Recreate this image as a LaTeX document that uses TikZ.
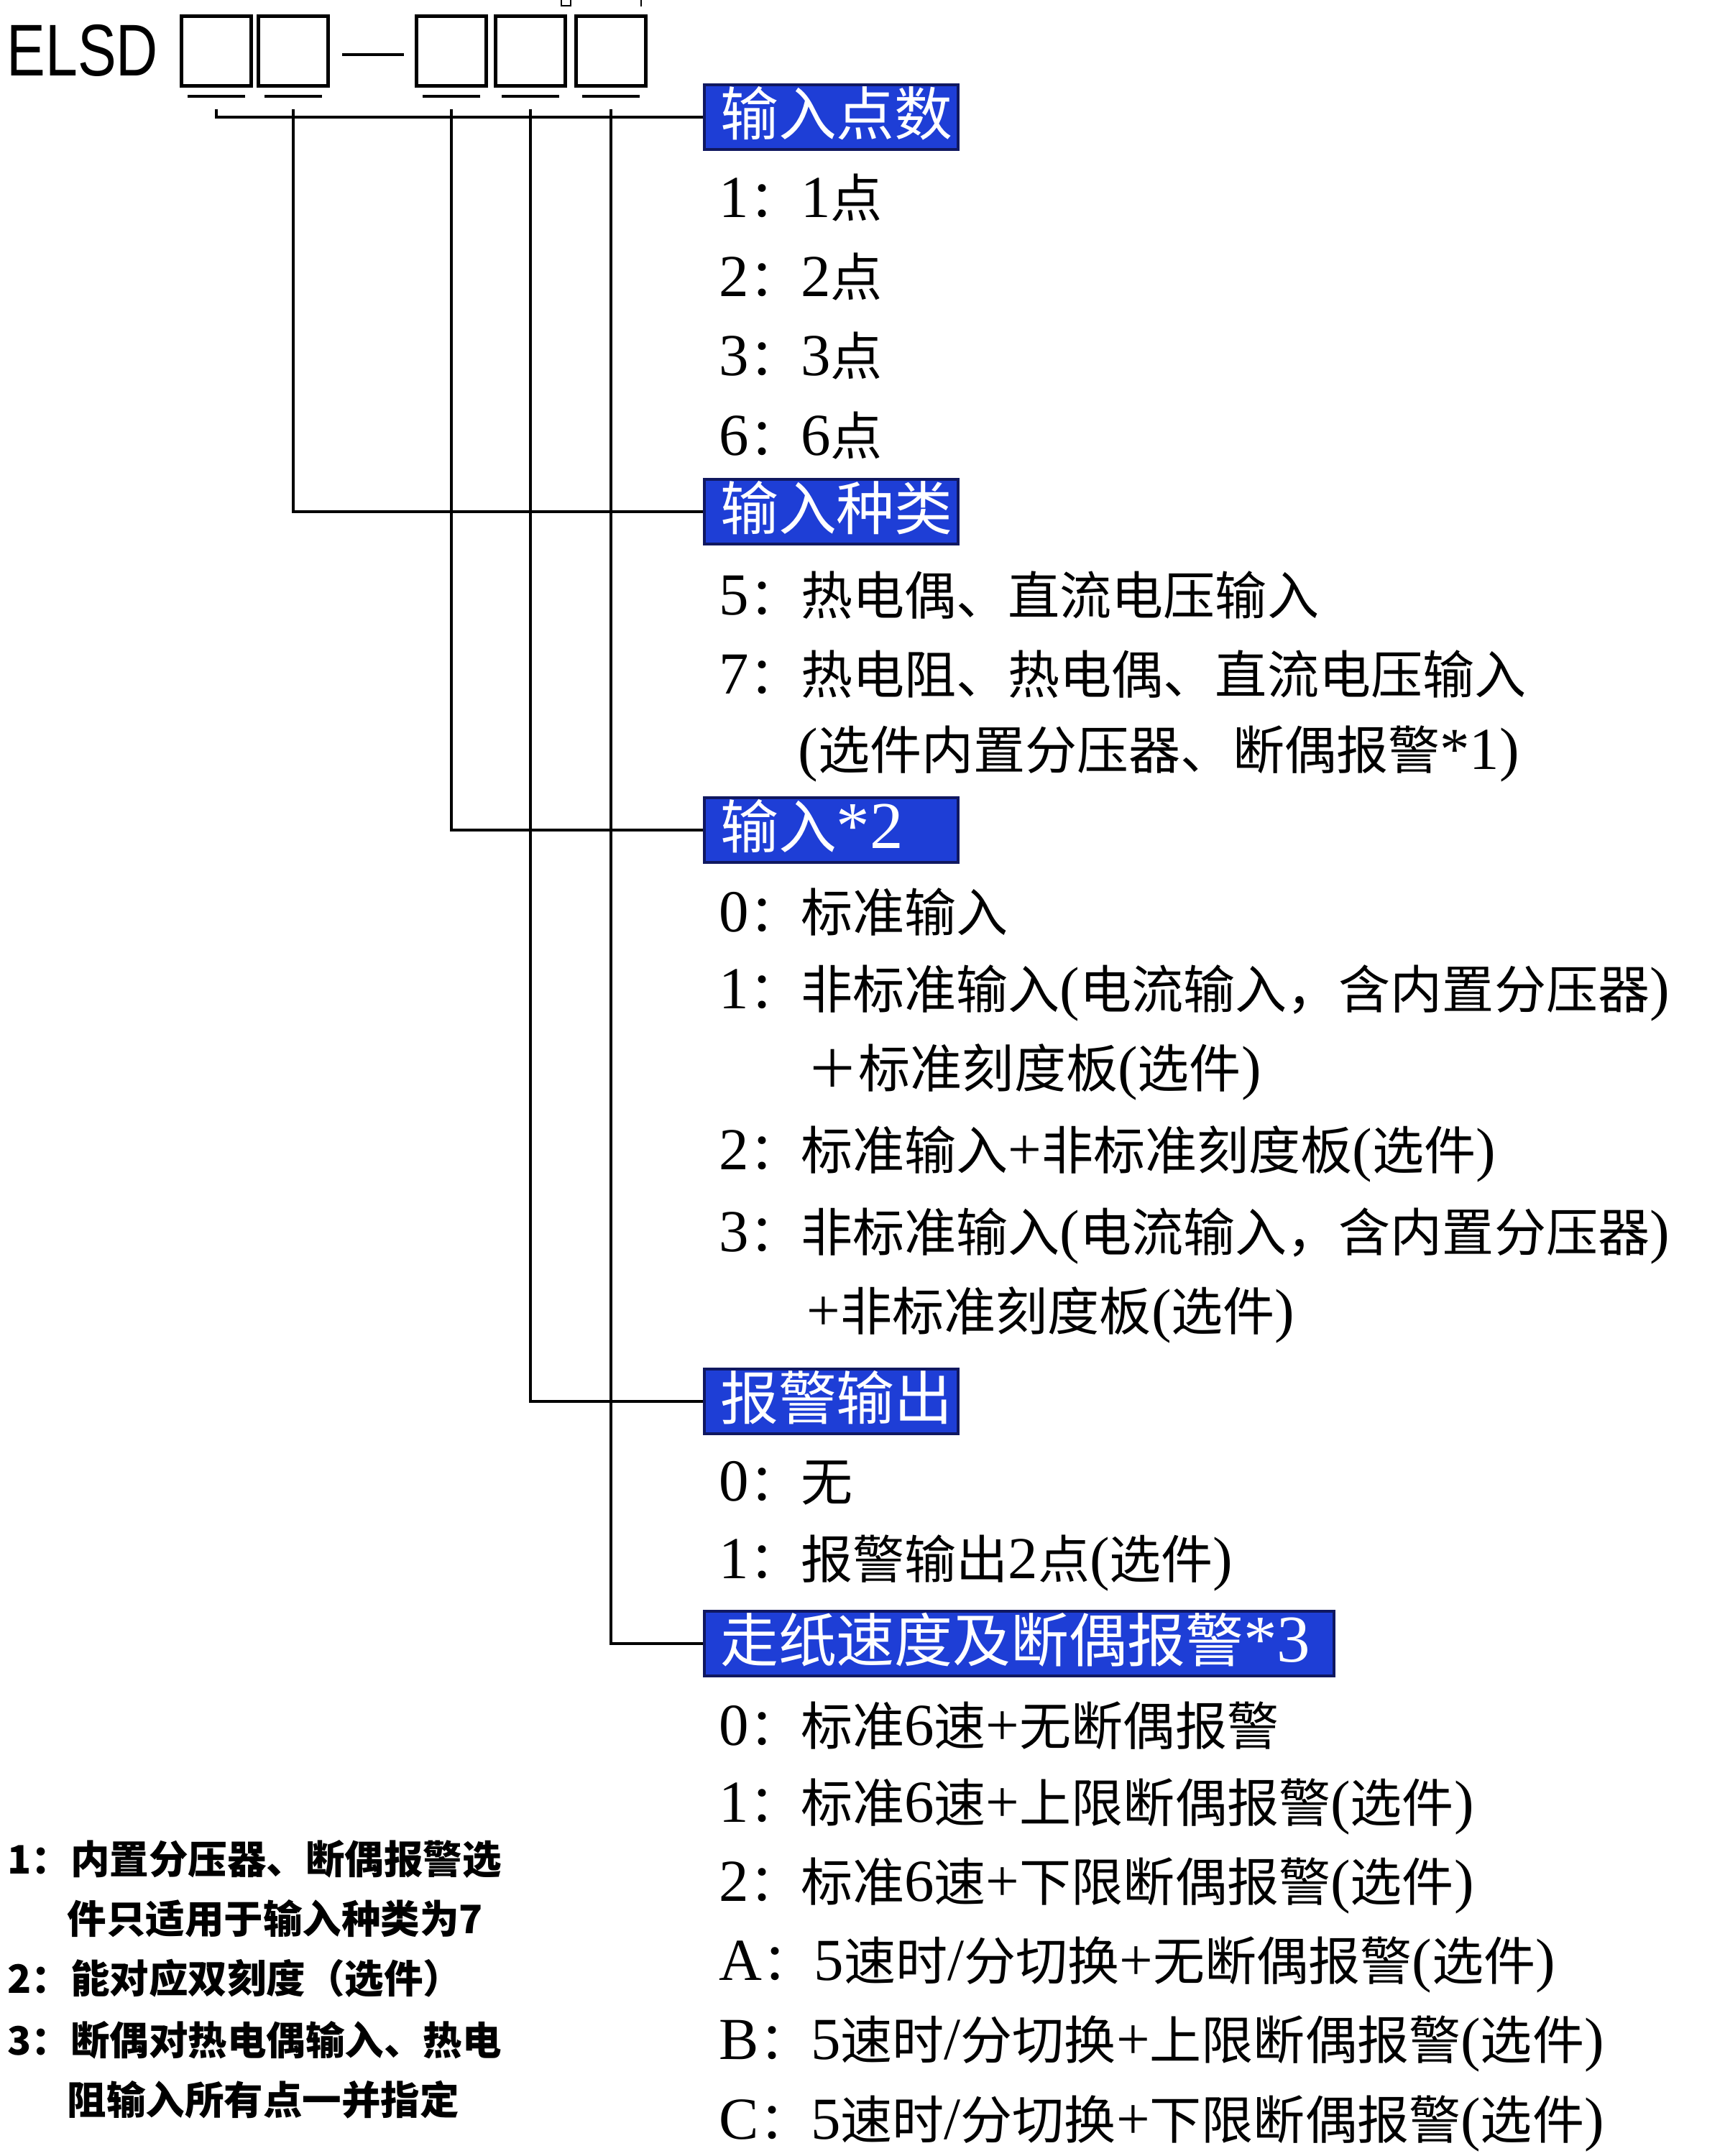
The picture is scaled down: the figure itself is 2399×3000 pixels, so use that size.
\documentclass[tikz,border=0pt]{standalone}
\usepackage{graphicx}
\usepackage{fontspec}
\setmainfont{Liberation Serif}[Scale=1.15]
\setsansfont{Liberation Sans}
\newfontfamily\cjkfont{Noto Sans CJK SC}
% Chinese characters go to the CJK face, the rest stays in the main face
\XeTeXinterchartokenstate=1
\newXeTeXintercharclass\cjkclass
\newcommand\cjkrange[2]{%
  \count255=#1\relax
  \loop
    \XeTeXcharclass\count255=\cjkclass
  \ifnum\count255<#2\relax
    \advance\count255 by 1
  \repeat}
\cjkrange{"3000}{"303F}
\cjkrange{"4E00}{"9FFF}
\cjkrange{"FF00}{"FFEF}
\XeTeXinterchartoks 0 \cjkclass = {\cjkfont}
\XeTeXinterchartoks 4095 \cjkclass = {\cjkfont}
\XeTeXinterchartoks \cjkclass 0 = {\rmfamily}
\definecolor{hdrblue}{RGB}{30,62,214}
\definecolor{hdredge}{RGB}{16,24,96}

\begin{document}
\begin{tikzpicture}[x=0.01cm,y=-0.01cm,
    slot/.style={draw,line width=1.4pt,minimum width=0.97cm,minimum height=0.97cm,inner sep=0},
    wire/.style={line width=1.1pt},
    hdr/.style={draw=hdredge,fill=hdrblue,line width=1.2pt,text=white,anchor=west,
        font=\fontsize{23}{26}\selectfont,minimum height=0.9cm,inner xsep=0.22cm,
        inner ysep=0.02cm,text height=0.64cm,text depth=0.14cm,
        text width=3.09cm,align=left},
    item/.style={anchor=west,inner sep=0,font=\fontsize{20.5}{24}\selectfont},
    note/.style={anchor=west,inner sep=0,
        font={\XeTeXinterchartokenstate=0 \cjkfont\bfseries\fontsize{15.5}{18}\selectfont}}]
    \useasboundingbox (0,0) rectangle (2399,3000);
    % model code
    \node[anchor=west,inner sep=0,font=\sffamily\fontsize{29}{32}\selectfont] (elsd) at (9,70) {\scalebox{0.79}[1]{ELSD}};
    \node[slot] (s1) at (301,71) {};
    \node[slot] (s2) at (408,71) {};
    \node[slot] (s3) at (628,71) {};
    \node[slot] (s4) at (738,71) {};
    \node[slot] (s5) at (850,71) {};
    \draw[line width=1.4pt] ([shift={(17,5)}]s2.east) -- ([shift={(-15,5)}]s3.west);
    \draw[line width=1.3pt] ([shift={(-40,12)}]s1.south) -- ++(80,0);
    \draw[line width=1.3pt] ([shift={(-40,12)}]s2.south) -- ++(80,0);
    \draw[line width=1.3pt] ([shift={(-40,12)}]s3.south) -- ++(80,0);
    \draw[line width=1.3pt] ([shift={(-40,12)}]s4.south) -- ++(80,0);
    \draw[line width=1.3pt] ([shift={(-40,12)}]s5.south) -- ++(80,0);
    \draw[line width=0.6pt] (781,0) -- (781,8) -- (794,8) -- (794,0);
    \draw[line width=0.8pt] (892,0) -- (892,9);
    % headings
    \node[hdr] (h1) at (978,163) {输入点数};
    \node[hdr] (h2) at (978,712) {输入种类};
    \node[hdr] (h3) at (978,1155) {输入*2};
    \node[hdr] (h4) at (978,1950) {报警输出};
    \node[hdr,text width=8.31cm] (h5) at (978,2287) {走纸速度及断偶报警*3};
    \draw[wire] ([yshift=-0.3cm]s1.south) |- (h1.west);
    \draw[wire] ([yshift=-0.3cm]s2.south) |- (h2.west);
    \draw[wire] ([yshift=-0.3cm]s3.south) |- (h3.west);
    \draw[wire] ([yshift=-0.3cm]s4.south) |- (h4.west);
    \draw[wire] ([yshift=-0.3cm]s5.south) |- (h5.west);
    % choices
    \node[item] (a1) at (1000,275) {1：1点};
    \node[item] (a2) at (1000,385) {2：2点};
    \node[item] (a3) at (1000,495) {3：3点};
    \node[item] (a6) at (1000,606) {6：6点};
    \node[item] (b5) at (1000,828) {5：热电偶、直流电压输入};
    \node[item] (b7) at (1000,938) {7：热电阻、热电偶、直流电压输入};
    \node[item] (b7x) at (1110,1049) {(选件内置分压器、断偶报警*1)};
    \node[item] (c0) at (1000,1269) {0：标准输入};
    \node[item] (c1) at (1000,1382) {1：非标准输入(电流输入，含内置分压器)};
    \node[item] (c1x) at (1122,1492) {＋标准刻度板(选件)};
    \node[item] (c2) at (1000,1606) {2：标准输入+非标准刻度板(选件)};
    \node[item] (c3) at (1000,1720) {3：非标准输入(电流输入，含内置分压器)};
    \node[item] (c3x) at (1122,1830) {+非标准刻度板(选件)};
    \node[item] (d0) at (1000,2063) {0：无};
    \node[item] (d1) at (1000,2175) {1：报警输出2点(选件)};
    \node[item] (e0) at (1000,2401) {0：标准6速+无断偶报警};
    \node[item] (e1) at (1000,2514) {1：标准6速+上限断偶报警(选件)};
    \node[item] (e2) at (1000,2624) {2：标准6速+下限断偶报警(选件)};
    \node[item] (eA) at (1000,2734) {A：5速时/分切换+无断偶报警(选件)};
    \node[item] (eB) at (1000,2844) {B：5速时/分切换+上限断偶报警(选件)};
    \node[item] (eC) at (1000,2955) {C：5速时/分切换+下限断偶报警(选件)};
    % footnotes
    \node[note] (n1) at (10,2587) {1：内置分压器、断偶报警选};
    \node[note] (n1x) at (93,2670) {件只适用于输入种类为7};
    \node[note] (n2) at (10,2753) {2：能对应双刻度（选件）};
    \node[note] (n3) at (10,2839) {3：断偶对热电偶输入、热电};
    \node[note] (n3x) at (93,2922) {阻输入所有点一并指定};
\end{tikzpicture}
\end{document}
